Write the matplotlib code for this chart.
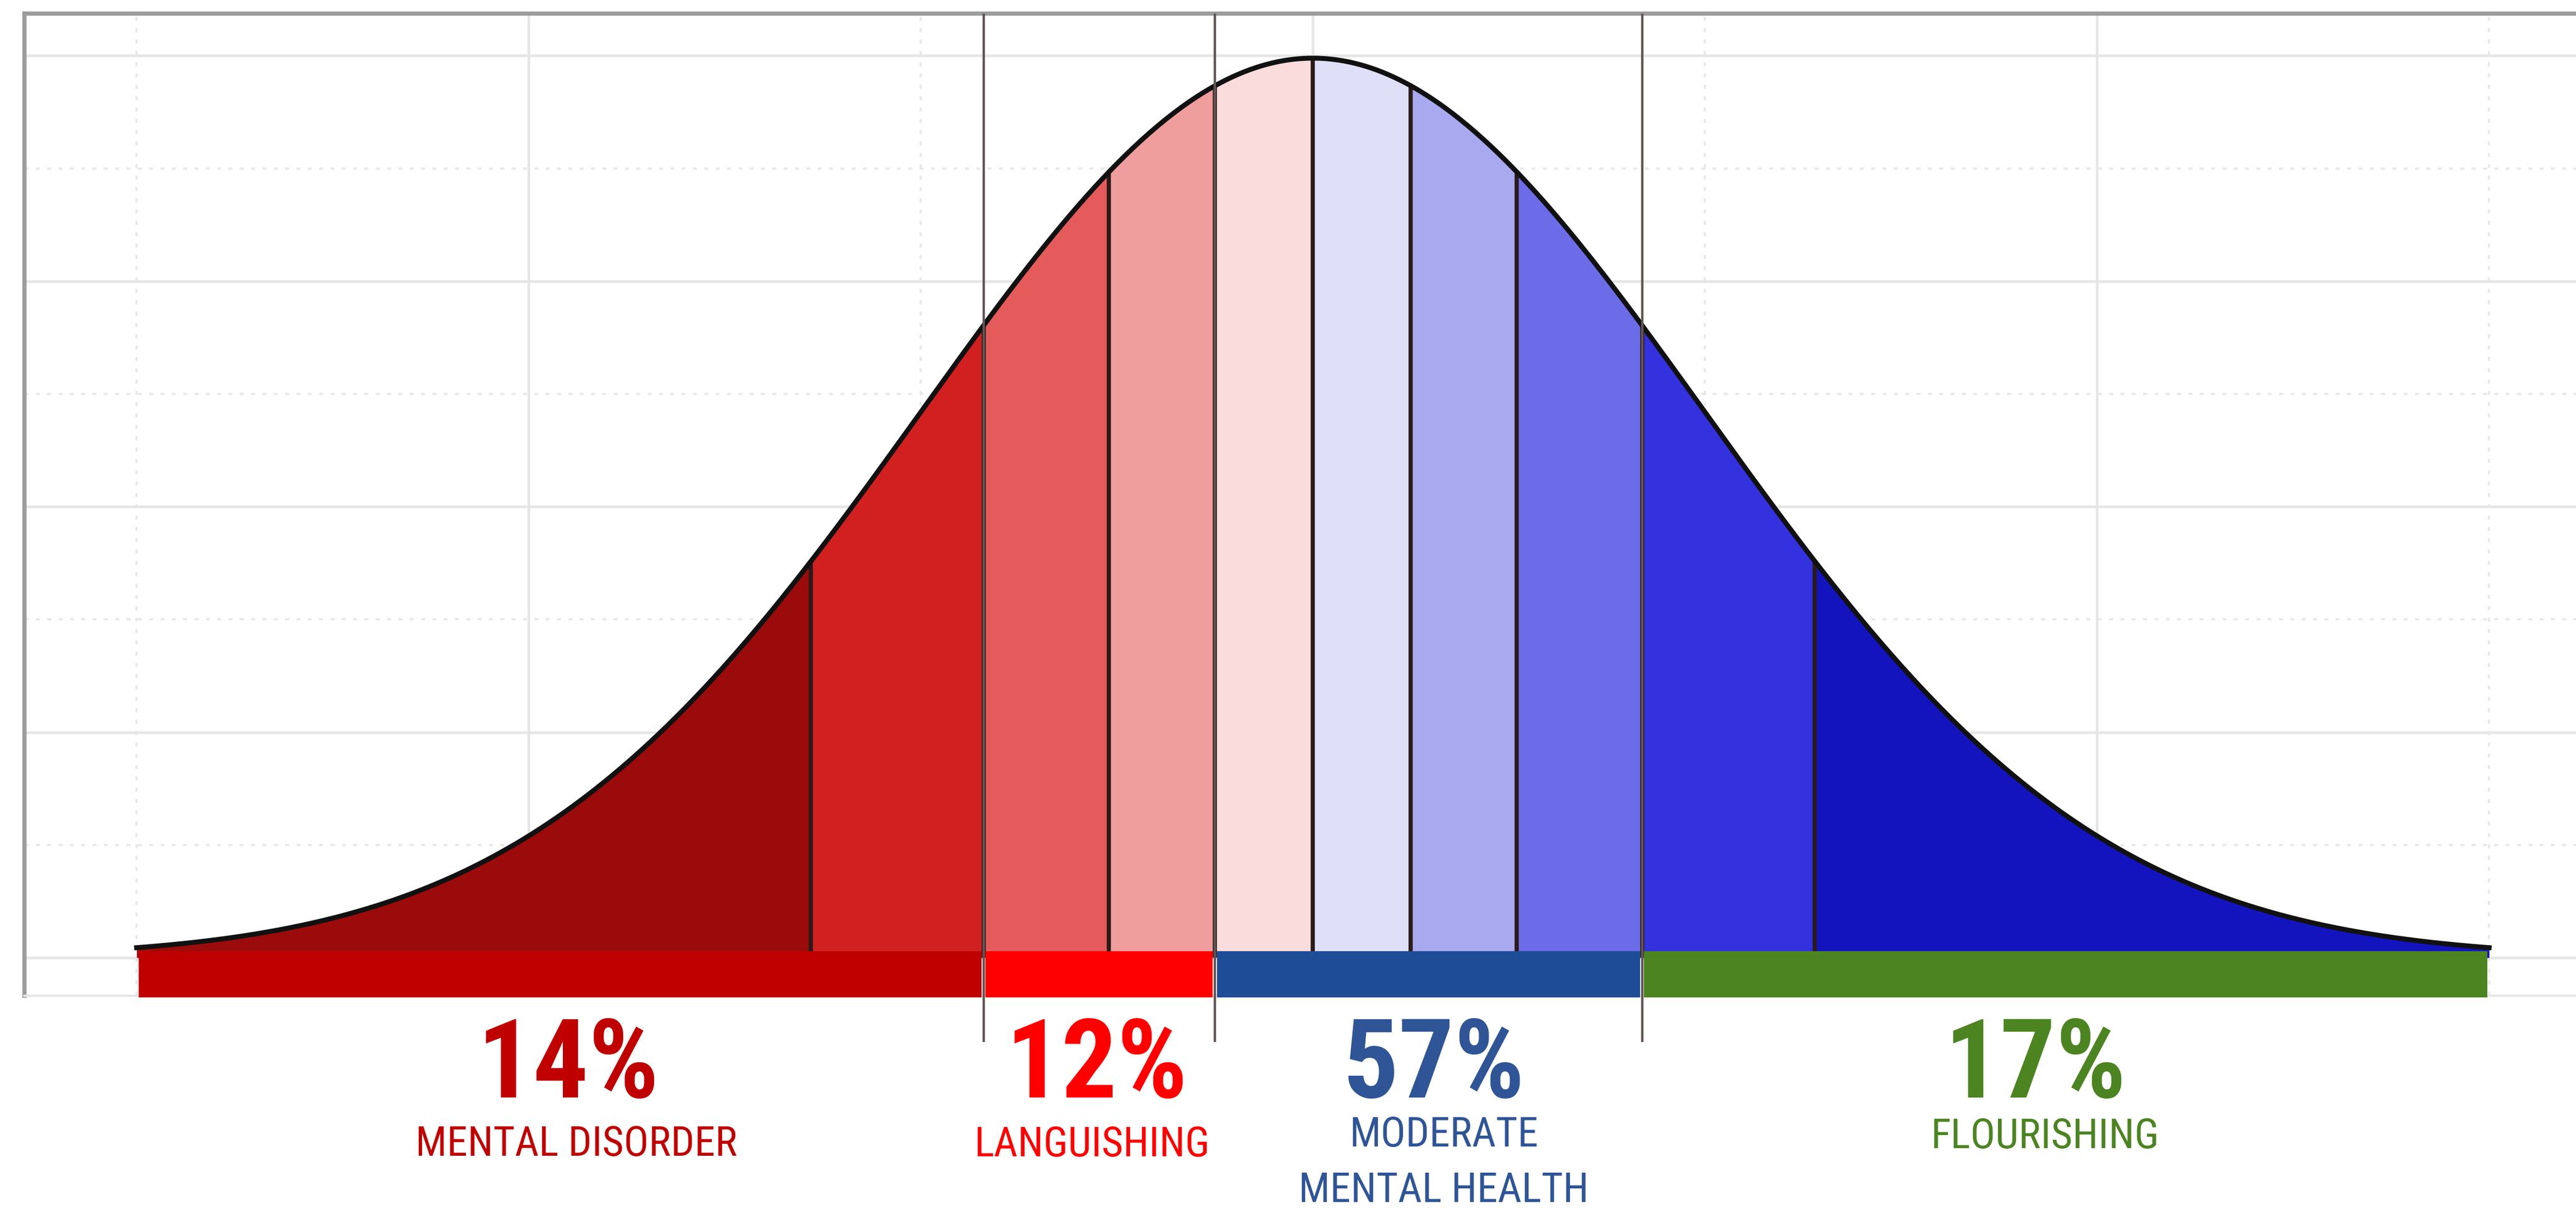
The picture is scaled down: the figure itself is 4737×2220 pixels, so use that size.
import numpy as np
import matplotlib.pyplot as plt
from matplotlib import font_manager

# decile cut points of the standard normal (in SD units)
band_edges = [-3.0, -1.28, -0.84, -0.52, -0.25, 0.0, 0.25, 0.52, 0.84, 1.28, 3.0]
band_colors = ["#9b0b0b", "#d22020", "#e55b5b", "#ef9d9d", "#fadcdc",
               "#dfdff8", "#a9a9ef", "#6c6ce8", "#3431de", "#1414bf"]

# population groups along the continuum
groups = ["MENTAL DISORDER", "LANGUISHING", "MODERATE\nMENTAL HEALTH", "FLOURISHING"]
shares = [14, 12, 57, 17]
group_start = [-3.0, -0.84, -0.25, 0.84]
group_end = [-0.84, -0.25, 0.84, 3.0]
bar_colors = ["#c00000", "#ff0000", "#1f4c97", "#4c8422"]
text_colors = ["#c00000", "#ff0000", "#2f5597", "#4c8422"]

# label placement (x in SD units, y in density units)
pct_x = [-1.90, -0.552, 0.309, 1.842]
name_x = [-1.878, -0.564, 0.334, 1.867]
name_y = [-0.0878, -0.0881, -0.1083, -0.0844]
pct_y = -0.0620

# narrowest sans family available
names = {f.name for f in font_manager.fontManager.ttflist}
font = dict(family="DejaVu Sans", fontstretch="condensed")
for fam in ["Liberation Sans Narrow", "Roboto Condensed", "Open Sans Condensed",
            "Noto Sans Condensed", "DejaVu Sans Condensed"]:
    if fam in names:
        font = dict(family=fam)
        break

ymin, ymax = -0.0169, 0.4187

fig = plt.figure(figsize=(47.37, 22.2), dpi=100)
ax = fig.add_axes([45 / 4737, 390 / 2220, 1.0, 1805 / 2220])
ax.set_xlim(-3.286, 3.284)
ax.set_ylim(ymin, ymax)

# grid: solid majors, dotted minors
ax.set_xticks([-2, 0, 2])
ax.set_xticks([-3, -1, 1, 3], minor=True)
ax.set_yticks([0, 0.1, 0.2, 0.3, 0.4])
ax.set_yticks([0.05, 0.15, 0.25, 0.35], minor=True)
ax.grid(which="major", color="#e6e6e6", linewidth=3.5)
ax.grid(which="minor", color="#e9e9e9", linewidth=3.0, linestyle=(0, (1.8, 3.2)))
ax.set_axisbelow(True)
ax.tick_params(which="both", length=0, labelleft=False, labelbottom=False)

for side in ["left", "top"]:
    ax.spines[side].set_color("#9c9c9c")
    ax.spines[side].set_linewidth(5.5)
ax.spines["bottom"].set_color("#e6e6e6")
ax.spines["bottom"].set_linewidth(3)
ax.spines["right"].set_visible(False)

def pdf(x):
    return np.exp(-0.5 * x ** 2) / np.sqrt(2 * np.pi)

# coloured decile bands under the curve
for a, b, c in zip(band_edges[:-1], band_edges[1:], band_colors):
    xs = np.linspace(a, b, 200)
    ax.fill_between(xs, 0, pdf(xs), color=c, linewidth=0, zorder=2)

inner = np.array(band_edges[1:-1])
ax.vlines(inner, 0, pdf(inner), color="#2b1a1a", linewidth=5.5, zorder=3)

xs = np.linspace(band_edges[0], band_edges[-1], 600)
ax.plot(xs, pdf(xs), color="#111111", linewidth=6.5, zorder=4)

# tall dividers between the groups
cuts = group_start[1:]
ax.vlines(cuts, -0.0374, ymax, color="#625555", linewidth=3.2, zorder=5, clip_on=False)

# group bars along the base
gap = 0.005
starts = np.array(group_start) + gap
widths = np.array(group_end) - np.array(group_start) - 2 * gap
ax.bar(starts, 0.0205, width=widths, bottom=-0.0176, align="edge",
       color=bar_colors, linewidth=0, zorder=6, clip_on=False)

for i, (g, s) in enumerate(zip(groups, shares)):
    ax.text(pct_x[i], pct_y, f"{s}%", ha="center", va="baseline",
            fontsize=146, fontweight="bold", color=text_colors[i],
            clip_on=False, **font)
    ax.text(name_x[i], name_y[i], g, ha="center", va="baseline",
            fontsize=55, color=text_colors[i], linespacing=1.5,
            clip_on=False, **font)

fig.savefig("out.png", dpi=100)
